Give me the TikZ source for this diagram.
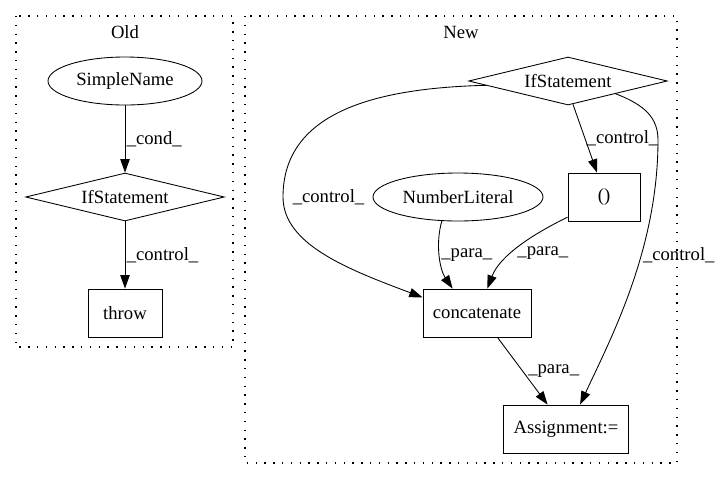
\documentclass[tikz,border=0pt]{standalone}
\usepackage{fontspec}
\setmainfont{Liberation Serif}
\usepackage{tikz}
\usetikzlibrary{arrows.meta, shapes.geometric}
\tikzset{>={Triangle[length=10pt,width=7pt]}, font=\fontsize{14}{16}\selectfont,
  box/.style={rectangle,draw,minimum height=36pt,inner sep=0pt},
  oval/.style={ellipse,draw,minimum height=36pt,inner sep=0pt},
  decision/.style={diamond,draw,aspect=4.15,minimum width=149pt,minimum height=36pt,inner sep=0pt},
  lbl/.style={inner sep=1pt,anchor=west},
  cluster/.style={draw,line width=0.9pt,dash pattern=on 1.1pt off 5.5pt}}

\begin{document}
\begin{tikzpicture}[x=0.75pt,y=-0.75pt,line width=0.65pt]
\useasboundingbox (0,0) rectangle (719,480);
%\draw[help lines] (0,0) grid[step=50] (719,480);
\draw[cluster] (16,16) rectangle (233,347);
\draw[cluster] (245,16) rectangle (677,463);
\path (125,32) node(old_title) {Old}
(461,32) node(new_title) {New};

% old
\path (125,81) node(simple_name) [oval,minimum width=115.5pt] {SimpleName}
(125,197) node(old_if) [decision] {IfStatement}
(125,313) node(throw) [box,minimum width=55.5pt] {throw};

% new
\path (568,81) node(new_if) [decision] {IfStatement}
(458,197) node(number_literal) [oval,minimum width=127.5pt] {NumberLiteral}
(604,197) node(paren) [box,minimum width=54pt] {()}
(477,313) node(concatenate) [box,minimum width=81pt] {concatenate}
(566,429) node(assignment) [box,minimum width=94pt] {Assignment:=};

\draw[->] (simple_name) -- node[lbl] {\_cond\_} (old_if);
\draw[->] (old_if) -- node[lbl] {\_control\_} (throw);

\draw[->] (new_if.-78) -- node[lbl] {\_control\_} (paren.106);
\draw[->] (new_if.183) .. controls (380,88) and (283,110) .. (283,197) node[lbl,xshift=6pt] {\_control\_}
  .. controls (283,245) and (350,270) .. (concatenate.164);
\draw[->] (new_if.-15) .. controls (645,105) and (658,118) .. (658,140)
  .. controls (658,250) and (610,340) .. node[lbl,pos=.375] {\_control\_} (assignment.60);
\draw[->] (number_literal.236) .. controls (435,245) and (440,270) .. node[lbl,pos=.47] {\_para\_} (concatenate.135);
\draw[->] (paren.209) .. controls (535,233) and (500,255) .. node[lbl,pos=.6,xshift=3pt] {\_para\_} (concatenate.67);
\draw[->] (concatenate.-50) -- node[lbl,xshift=3pt] {\_para\_} (assignment.127);
%\draw[->] (concatenate) -- (assignment);
\end{tikzpicture}
\end{document}
